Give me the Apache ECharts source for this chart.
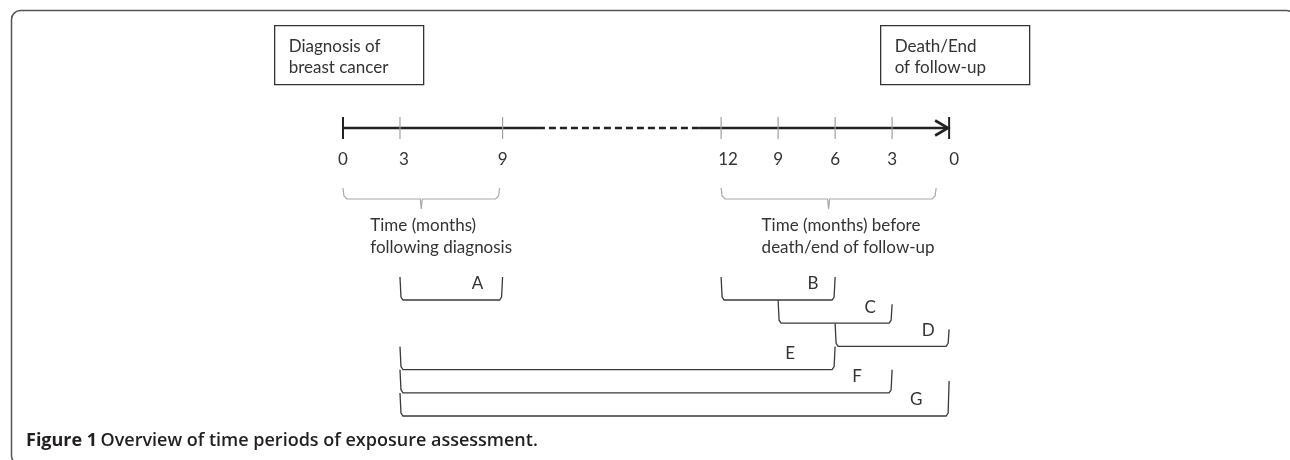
<!DOCTYPE html>
<html>
<head>
<meta charset="utf-8">
<script src="https://cdn.jsdelivr.net/npm/echarts@6/dist/echarts.min.js"></script>
<style>
html,body{margin:0;padding:0;background:#fff;}
#chart{width:1290px;height:460px;}
</style>
</head>
<body>
<div id="chart"></div>
<script>
// ---- data ----
const tickLabels = ['0', '3', '9', '12', '9', '6', '3', '0'];
// position along the timeline (months-like units; left: after diagnosis, right: before death)
const tickPos = [0, 3, 8.4, 19.9, 22.9, 25.9, 28.9, 31.9];
const periodNames = ['A', 'B', 'C', 'D', 'E', 'F', 'G'];
const periodFrom = [1, 3, 4, 5, 1, 1, 1];   // tick index where the period starts
const periodTo   = [2, 5, 6, 7, 5, 6, 7];   // tick index where the period ends
const periodRow  = [0, 0, 1, 2, 3, 4, 5];   // row of the bracket
const braceFrom = [0, 3];                   // tick index
const braceTo   = [2, 7];
const braceText = [['Time (months)', 'following diagnosis'], ['Time (months) before', 'death/end of follow-up']];
const boxText = [['Diagnosis of', 'breast cancer'], ['Death/End', 'of follow-up']];
const captionBold = 'Figure 1';
const captionText = 'Overview of time periods of exposure assessment.';

// ---- layout / style ----
const FONT = 'Lato, "Open Sans", sans-serif';
const FS = 17;
const AXIS_Y = 128;
const dashFrom = 10.26, dashTo = 18.74;
const labelShift = [0, 4, 0, 7, 0, 0, 0, 5];
const rowBase = 300, rowStep = 23.2, rowH = 23;
const rightRise = [23, 23, 19, 17, 23, 23, 35];
const labelBack = [25, 22, 22, 21, 45, 35, 33];
const braceEndInset = [3, 13];
const braceTextLeft = [-51, -67];   // text left edge relative to brace stem (px)

const chart = echarts.init(document.getElementById('chart'), null, {renderer: 'canvas'});

function seg(a, b, dashed) {
  return {
    type: 'line', data: [[a, AXIS_Y], [b, AXIS_Y]], symbol: 'none', silent: true, z: 3,
    lineStyle: {color: '#222', width: 2.3, type: dashed ? [7, 4] : 'solid'}
  };
}

const series = [
  seg(tickPos[0], dashFrom, false),
  seg(dashFrom, dashTo, true),
  seg(dashTo, tickPos[tickPos.length - 1] - 0.1, false),
  // arrow head
  {
    type: 'custom', coordinateSystem: 'cartesian2d', silent: true, z: 4,
    data: [[tickPos[tickPos.length - 1], AXIS_Y]],
    renderItem: function (params, api) {
      const p = api.coord([api.value(0), api.value(1)]);
      return {type: 'polyline', shape: {points: [[p[0] - 14, p[1] - 7.5], [p[0] - 1, p[1]], [p[0] - 14, p[1] + 7.5]]},
        style: {stroke: '#222', lineWidth: 2.6, fill: null}};
    }
  },
  // ticks and tick labels
  {
    type: 'custom', coordinateSystem: 'cartesian2d', silent: true, z: 5,
    data: tickPos.map(p => [p, AXIS_Y]),
    renderItem: function (params, api) {
      const i = params.dataIndex;
      const p = api.coord([api.value(0), api.value(1)]);
      const edge = (i === 0 || i === tickPos.length - 1);
      return {type: 'group', children: [
        {type: 'line', shape: {x1: p[0], y1: p[1] - 11, x2: p[0], y2: p[1] + 11},
          style: {stroke: edge ? '#222' : '#a0a0a0', lineWidth: edge ? 2 : 1.2}},
        {type: 'text', style: {text: tickLabels[i], x: p[0] + labelShift[i], y: p[1] + 32,
          align: 'center', verticalAlign: 'middle', font: FS + 'px ' + FONT, fill: '#333'}}
      ]};
    }
  },
  // braces
  {
    type: 'custom', coordinateSystem: 'cartesian2d', silent: true,
    data: braceFrom.map((f, i) => [tickPos[f], tickPos[braceTo[i]]]),
    renderItem: function (params, api) {
      const i = params.dataIndex;
      const x1 = api.coord([api.value(0), 0])[0];
      const x2 = api.coord([api.value(1), 0])[0] - braceEndInset[i];
      const top = api.coord([0, 188])[1], bot = api.coord([0, 199])[1];
      const mid = (x1 + x2) / 2;
      const lines = braceText[i];
      const tx = mid + braceTextLeft[i];
      return {type: 'group', children: [
        {type: 'polyline', shape: {points: [[x1, top], [x1 + 1, bot - 3], [x1 + 4, bot], [mid - 1, bot], [mid, bot + 10],
          [mid + 1, bot], [x2 - 4, bot], [x2 - 1, bot - 3], [x2, top]]},
          style: {stroke: '#a8a8a8', lineWidth: 1.2, fill: null}},
        {type: 'text', style: {text: lines[0], x: tx, y: bot + 27, align: 'left', verticalAlign: 'middle', font: FS + 'px ' + FONT, fill: '#333'}},
        {type: 'text', style: {text: lines[1], x: tx, y: bot + 49, align: 'left', verticalAlign: 'middle', font: FS + 'px ' + FONT, fill: '#333'}}
      ]};
    }
  },
  // period brackets
  {
    type: 'custom', coordinateSystem: 'cartesian2d', silent: true,
    data: periodNames.map((n, i) => [tickPos[periodFrom[i]], tickPos[periodTo[i]], rowBase + rowStep * periodRow[i]]),
    renderItem: function (params, api) {
      const i = params.dataIndex;
      const a = api.coord([api.value(0), api.value(2)]);
      const b = api.coord([api.value(1), api.value(2)]);
      const x1 = a[0], x2 = b[0], y = a[1];
      return {type: 'group', children: [
        {type: 'polyline', shape: {points: [[x1, y - rowH], [x1 + 1, y - 3], [x1 + 3, y], [x2 - 3, y], [x2 - 1, y - 3], [x2, y - rightRise[i]]]},
          style: {stroke: '#3a3a3a', lineWidth: 1.3, fill: null}},
        {type: 'text', style: {text: periodNames[i], x: x2 - labelBack[i], y: y - 16, align: 'center', verticalAlign: 'middle',
          font: FS + 'px ' + FONT, fill: '#333'}}
      ]};
    }
  }
];

function boxGraphic(x, lines) {
  return {type: 'group', left: x, top: 25, children: [
    {type: 'rect', shape: {x: 0, y: 0, width: 149, height: 59}, style: {fill: '#fff', stroke: '#333', lineWidth: 1.3}},
    {type: 'text', x: 14, y: 21, style: {text: lines[0], font: FS + 'px ' + FONT, fill: '#333', verticalAlign: 'middle'}},
    {type: 'text', x: 14, y: 42, style: {text: lines[1], font: FS + 'px ' + FONT, fill: '#333', verticalAlign: 'middle'}}
  ]};
}

const option = {
  animation: false,
  backgroundColor: '#fff',
  grid: {left: 0, right: 0, top: 0, bottom: 0},
  xAxis: {type: 'value', min: -18.05, max: 49.84, show: false},
  yAxis: {type: 'value', min: 0, max: 460, inverse: true, show: false},
  graphic: [
    {type: 'rect', left: 9, top: 8, shape: {width: 1284, height: 454, r: 9}, style: {fill: null, stroke: '#555', lineWidth: 1.5}, z: 0},
    boxGraphic(274, boxText[0]),
    boxGraphic(880, boxText[1]),
    {type: 'text', left: 26, top: 432, style: {
      text: '{b|' + captionBold + '} {n|' + captionText + '}',
      rich: {b: {font: 'bold 18px "Open Sans", sans-serif', fill: '#231f20'}, n: {font: '600 18px "Open Sans", sans-serif', fill: '#231f20'}}
    }}
  ],
  series: series
};
chart.setOption(option);
</script>
</body>
</html>
